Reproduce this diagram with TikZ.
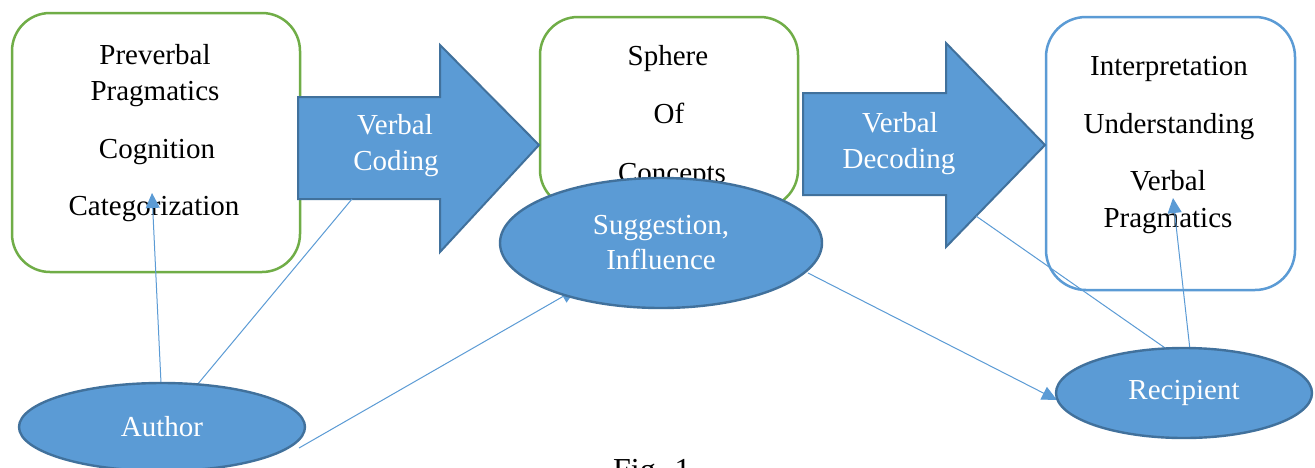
\documentclass[tikz,border=0pt]{standalone}
\usepackage{fontspec}
\setmainfont{Liberation Serif}
\usetikzlibrary{arrows.meta,shapes.geometric}
\definecolor{fillblue}{HTML}{5B9BD5}
\definecolor{edgeblue}{HTML}{41719C}
\definecolor{boxgreen}{HTML}{70AD47}
\begin{document}
\begin{tikzpicture}[x=1pt,y=-1pt,
  txt/.style={font=\fontsize{29}{35}\selectfont, inner sep=0pt, anchor=base},
  wtxt/.style={txt, text=white},
  gbox/.style={draw=boxgreen, line width=2.5pt, rounded corners=38pt, fill=white, inner sep=0pt, outer sep=0pt},
  bbox/.style={draw=fillblue, line width=2.5pt, rounded corners=40pt, fill=white, inner sep=0pt, outer sep=0pt},
  barrow/.style={fill=fillblue, draw=edgeblue, line width=2pt, line join=miter},
  oval/.style={ellipse, fill=fillblue, draw=edgeblue, line width=2.4pt, inner sep=0pt, outer sep=0pt, text=white, align=center, font=\fontsize{29}{35}\selectfont},
  conn/.style={draw=fillblue, line width=1pt},
  tip/.style={-{Triangle[length=15pt,width=14pt]}}
]
\useasboundingbox (0,0) rectangle (1315,467);
\fill[white] (0,0) rectangle (1315,467);

% boxes
\node[gbox, minimum width=288pt, minimum height=259pt] (box1) at (156,142.5) {};
\node[gbox, minimum width=258pt, minimum height=191pt] (box2) at (669,112.5) {};
\node[bbox, minimum width=249pt, minimum height=273pt] (box3) at (1170.5,153.5) {};

% block arrows
\draw[barrow] (298,97) -- (440,97) -- (440,45) -- (539,145) -- (440,252) -- (440,199) -- (298,199) -- cycle;
\draw[barrow] (803,93) -- (946,93) -- (946,43) -- (1045,145) -- (946,247) -- (946,195) -- (803,195) -- cycle;
\coordinate (codeBase) at (352,199);
\coordinate (decHead) at (976,216);

% texts
\node[txt] (t1) at (155,64) {Preverbal};
\node[txt] (t2) at (155,100) {Pragmatics};
\node[txt] (t3) at (157,158) {Cognition};
\node[txt] (t4) at (154,215) {Categorization};
\node[wtxt] (a1) at (395,134) {Verbal};
\node[wtxt] (a2) at (396,170) {Coding};
\node[wtxt] (a3) at (900,132) {Verbal};
\node[wtxt] (a4) at (899,168) {Decoding};
\node[txt] (s1) at (668,65) {Sphere};
\node[txt] (s2) at (669,123) {Of};
\node[txt] (s3) at (672,182) {Concepts};
\node[txt] (u1) at (1169,75) {Interpretation};
\node[txt] (u2) at (1169,133) {Understanding};
\node[txt] (u3) at (1168,190) {Verbal};
\node[txt] (u4) at (1168,227) {Pragmatics};

% named ends
\coordinate (catTip) at (152,193);
\coordinate (pragTip) at (1173,198);
\coordinate (suggIn) at (576,289);
\coordinate (authTop) at (161,383);
\coordinate (authR1) at (197,385);
\coordinate (authR2) at (299,448);
\coordinate (suggR) at (808,273);
\coordinate (recL) at (1057,400);
\coordinate (recT1) at (1168,350);
\coordinate (recT2) at (1190,350);

% connectors
\draw[conn,tip] (authTop) -- (catTip);
\draw[conn] (authR1) -- (codeBase);
\draw[conn,tip] (authR2) -- (suggIn);
\draw[conn,tip] (suggR) -- (recL);
\draw[conn] (recT1) -- (decHead);
\draw[conn,tip] (recT2) -- (pragTip);

% ellipses
\node[oval, minimum width=322pt, minimum height=130pt] (sugg) at (661,243) {Suggestion,\\[0pt]Influence};
\node[oval, minimum width=286pt, minimum height=88pt] (author) at (162,427) {Author};
\node[oval, minimum width=256pt, minimum height=90pt] (recip) at (1184,393) {Recipient};

\node[anchor=base west, inner sep=0pt, font=\fontsize{32}{38}\selectfont] (fig) at (613,480) {Fig. 1};
\end{tikzpicture}
\end{document}
